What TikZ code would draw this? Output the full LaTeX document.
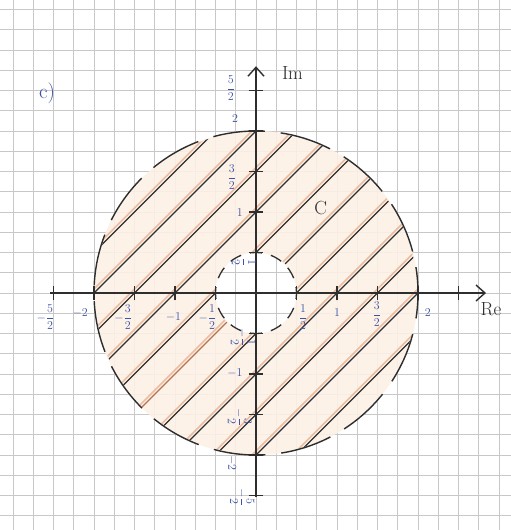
\documentclass[tikz,border=0pt]{standalone}
\usepackage{amsmath}
\usetikzlibrary{arrows.meta}
\definecolor{pen}{HTML}{2E2E2E}
\definecolor{ink}{HTML}{3F51A3}
\definecolor{gridc}{HTML}{C8C8C8}
\definecolor{peach}{HTML}{FCF1E6}
\definecolor{orng}{HTML}{E39A72}
\definecolor{brownish}{HTML}{B9714E}
\tikzset{
  tlab/.style={text=ink, font=\fontsize{12}{12}\selectfont, inner sep=0pt},
  biglab/.style={text=pen, font=\fontsize{19}{19}\selectfont, inner sep=0pt},
  axisline/.style={draw=pen, line width=1.5pt},
  tickmark/.style={draw=pen, line width=1.4pt},
  hatchline/.style={draw=pen, line width=1.1pt},
  orangeline/.style={draw=orng, line width=1.6pt, opacity=0.6},
  outercirc/.style={draw=pen, line width=1.4pt, dash pattern=on 52pt off 15.9pt, dash phase=26pt},
  innercirc/.style={draw=pen, line width=1.3pt, dash pattern=on 12pt off 9.2pt, dash phase=6pt},
}
\begin{document}
\begin{tikzpicture}[x=81pt,y=81pt]
  \useasboundingbox (-3.1605,-2.9259) rectangle (3.1481,3.6173);
  \fill[white] (-3.1605,-2.9259) rectangle (3.1481,3.6173);
  % grid paper
  \begin{scope}
    \clip (-3.1605,-2.9259) rectangle (3.1481,3.6173);
    \foreach \i in {-13,...,13} \draw[gridc, line width=0.9pt] (\i*0.25,-3) -- (\i*0.25,3.7);
    \foreach \j in {-12,...,15} \draw[gridc, line width=0.9pt] (-3.2,\j*0.25) -- (3.2,\j*0.25);
  \end{scope}
  % shaded annulus
  \fill[peach, opacity=0.9, even odd rule] (0,0) circle (2) (0,0) circle (0.5);
  % hatching
  \begin{scope}[even odd rule]
    \clip (0,0) circle (1.99) (0,0) circle (0.51);
    \foreach \c in {-2.45,-1.95,...,2.6} \draw[orangeline] (-3,-3+\c) -- (3,3+\c);
    \foreach \c in {-2.5,-2,-1.5,-1,-0.5,0.5,1,1.5,2,2.5} \draw[hatchline] (-3,-3+\c) -- (3,3+\c);
    \draw[hatchline] (0,0) -- (3,3);
    \draw[hatchline, draw=brownish] (0,0) -- (-3,-3);
  \end{scope}
  % circles
  \draw[outercirc] (0,0) circle (2);
  \draw[innercirc] (0,0) circle (0.5);
  % axes
  \coordinate (reS) at (-2.54,0);
  \coordinate (reE) at (2.84,0);
  \coordinate (imS) at (0,-2.52);
  \coordinate (imE) at (0,2.8);
  \draw[axisline, -{Straight Barb[length=9pt,width=16pt,line width=1.4pt]}] (reS) -- (reE);
  \draw[axisline, -{Straight Barb[length=9pt,width=16pt,line width=1.4pt]}] (imS) -- (imE);
  \foreach \t in {-2.5,-2,-1.5,-1,-0.5,0.5,1,1.5,2,2.5} {
    \draw[tickmark] (\t,-0.09) -- (\t,0.09);
    \draw[tickmark] (-0.09,\t) -- (0.09,\t);
  }
  % axis labels
  \node[biglab] (re) at (2.9,-0.2) {Re};
  \node[biglab] (im) at (0.45,2.72) {Im};
  \node[biglab] (cc) at (0.8,1.05) {C};
  \node[text=ink, font=\fontsize{21}{21}\selectfont, inner sep=0pt] (part) at (-2.58,2.47) {c)};
  % real axis tick labels
  \node[tlab] (rm52) at (-2.6,-0.3) {$-\dfrac{5}{2}$};
  \node[tlab] (rm2) at (-2.17,-0.25) {$-2$};
  \node[tlab] (rm32) at (-1.64,-0.3) {$-\dfrac{3}{2}$};
  \node[tlab] (rm1) at (-1.02,-0.3) {$-1$};
  \node[tlab] (rm12) at (-0.6,-0.3) {$-\dfrac{1}{2}$};
  \node[tlab] (rp12) at (0.58,-0.3) {$\dfrac{1}{2}$};
  \node[tlab] (rp1) at (1.0,-0.24) {$1$};
  \node[tlab] (rp32) at (1.49,-0.26) {$\dfrac{3}{2}$};
  \node[tlab] (rp2) at (2.12,-0.24) {$2$};
  % imaginary axis tick labels
  \node[tlab] (ip52) at (-0.31,2.53) {$\dfrac{5}{2}$};
  \node[tlab] (ip2) at (-0.26,2.15) {$2$};
  \node[tlab] (ip32) at (-0.3,1.43) {$\dfrac{3}{2}$};
  \node[tlab] (ip1) at (-0.2,0.99) {$1$};
  \node[tlab, rotate=-90] (ip12) at (-0.15,0.38) {$\dfrac{1}{2}$};
  \node[tlab, rotate=-90] (im12) at (-0.16,-0.55) {$-\dfrac{1}{2}$};
  \node[tlab] (im1) at (-0.26,-0.99) {$-1$};
  \node[tlab, rotate=-90] (im32) at (-0.2,-1.53) {$-\dfrac{3}{2}$};
  \node[tlab, rotate=-90] (im2) at (-0.3,-2.1) {$-2$};
  \node[tlab, rotate=-90] (im52) at (-0.17,-2.52) {$-\dfrac{5}{2}$};
\end{tikzpicture}
\end{document}
